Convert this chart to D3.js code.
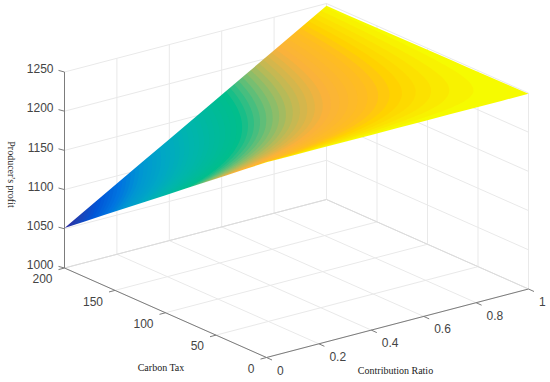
<!DOCTYPE html>
<html>
<head>
<meta charset="utf-8">
<script src="https://cdn.jsdelivr.net/npm/d3@7"></script>
<style>
    html, body { margin: 0; padding: 0; background: #fff; overflow: hidden; }
    text { font-family: "Liberation Sans", Arial, sans-serif; font-size: 12px; fill: #444; }
    .title { font-family: "Liberation Serif", "Times New Roman", serif; font-size: 10px; fill: #222; }
</style>
</head>
<body>
<svg width="550" height="382"></svg>
<script>
var xTicks = [0, 0.2, 0.4, 0.6, 0.8, 1];
var xLabels = ["0", "0.2", "0.4", "0.6", "0.8", "1"];
var yTicks = [0, 50, 100, 150, 200];
var zTicks = [1000, 1050, 1100, 1150, 1200, 1250];

// surface samples, one row per carbon tax, one column per ratio
var ratioValues = [0, 0.1, 0.2, 0.3, 0.4, 0.5, 0.6, 0.7, 0.8, 0.9, 1];
var taxValues = [0, 20, 40, 60, 80, 100, 120, 140, 160, 180, 200];
var profitRows = [
    [1249, 1249, 1249, 1249, 1249, 1249, 1249, 1249, 1249, 1249, 1249],
    [1229.2, 1231.2, 1233.1, 1235.1, 1237, 1239, 1241, 1242.9, 1244.9, 1246.8, 1248.8],
    [1209.4, 1213.3, 1217.2, 1221.2, 1225.1, 1229, 1232.9, 1236.8, 1240.8, 1244.7, 1248.6],
    [1189.6, 1195.5, 1201.4, 1207.2, 1213.1, 1219, 1224.9, 1230.8, 1236.6, 1242.5, 1248.4],
    [1169.8, 1177.6, 1185.5, 1193.3, 1201.2, 1209, 1216.8, 1224.7, 1232.5, 1240.4, 1248.2],
    [1150, 1159.8, 1169.6, 1179.4, 1189.2, 1199, 1208.8, 1218.6, 1228.4, 1238.2, 1248],
    [1130.2, 1142, 1153.7, 1165.5, 1177.2, 1189, 1200.8, 1212.5, 1224.3, 1236, 1247.8],
    [1110.4, 1124.1, 1137.8, 1151.6, 1165.3, 1179, 1192.7, 1206.4, 1220.2, 1233.9, 1247.6],
    [1090.6, 1106.3, 1122, 1137.6, 1153.3, 1169, 1184.7, 1200.4, 1216, 1231.7, 1247.4],
    [1070.8, 1088.4, 1106.1, 1123.7, 1141.4, 1159, 1176.6, 1194.3, 1211.9, 1229.6, 1247.2],
    [1051, 1070.6, 1090.2, 1109.8, 1129.4, 1149, 1168.6, 1188.2, 1207.8, 1227.4, 1247]
];

// colormap as seen on the surface
var colorLevels = [1051, 1062, 1077, 1093, 1108, 1125, 1140, 1170, 1178, 1187, 1196, 1210, 1225, 1232, 1242, 1249];
var colorStops = ["#2d28a0", "#1e41b4", "#0055d7", "#0074e0", "#0096d2", "#00a8c4", "#00b4b0", "#00be8c", "#3cbe82", "#82be6e", "#beb955", "#fab23c", "#ffbe1e", "#ffd200", "#faeb00", "#f5ff00"];

var svg = d3.select("svg");

var xScale = d3.scaleLinear().domain([0, 1]).range([0, 1]);
var yScale = d3.scaleLinear().domain([0, 200]).range([0, 1]);
var zScale = d3.scaleLinear().domain([1000, 1250]).range([0, 196]);
var colorScale = d3.scaleLinear().domain(colorLevels).range(colorStops);

// orthographic view, front floor corner plus one vector per axis
var origin = [266.5, 357.5];
var xDir = [262, -68.5];
var yDir = [-202, -89.5];

function project(x, y, z) {
    var a = xScale(x), b = yScale(y);
    return [
        origin[0] + a * xDir[0] + b * yDir[0],
        origin[1] + a * xDir[1] + b * yDir[1] - zScale(z)
    ];
}

function line3d(g, p, q, color, width) {
    var a = project(p[0], p[1], p[2]), b = project(q[0], q[1], q[2]);
    g.append("line")
        .attr("x1", a[0]).attr("y1", a[1])
        .attr("x2", b[0]).attr("y2", b[1])
        .attr("stroke", color)
        .attr("stroke-width", width);
}

// grid on the floor and the two back walls
var grid = svg.append("g");
var gridColor = "#e9e9e9";
var edgeColor = "#dcdcdc";

xTicks.forEach(function (x) {
    line3d(grid, [x, 0, 1000], [x, 200, 1000], x == 1 ? edgeColor : gridColor, 1);
    line3d(grid, [x, 200, 1000], [x, 200, 1250], gridColor, 1);
});
yTicks.forEach(function (y) {
    line3d(grid, [0, y, 1000], [1, y, 1000], y == 200 ? edgeColor : gridColor, 1);
    line3d(grid, [1, y, 1000], [1, y, 1250], gridColor, 1);
});
zTicks.forEach(function (z) {
    line3d(grid, [0, 200, z], [1, 200, z], z == 1000 ? edgeColor : gridColor, 1);
    line3d(grid, [1, 200, z], [1, 0, z], z == 1000 ? edgeColor : gridColor, 1);
});

// surface: bands of equal profit, like a flat colormap on a fine mesh
function profitAt(a, b) {
    var fx = a * (ratioValues.length - 1), fy = b * (taxValues.length - 1);
    var i = Math.max(0, Math.min(Math.floor(fx), ratioValues.length - 2));
    var j = Math.max(0, Math.min(Math.floor(fy), taxValues.length - 2));
    var s = fx - i, t = fy - j;
    return (1 - t) * ((1 - s) * profitRows[j][i] + s * profitRows[j][i + 1]) +
        t * ((1 - s) * profitRows[j + 1][i] + s * profitRows[j + 1][i + 1]);
}

var n = 81;
var fineValues = [];
d3.range(n).forEach(function (j) {
    d3.range(n).forEach(function (i) {
        fineValues.push(profitAt(i / (n - 1), j / (n - 1)));
    });
});

var bandCount = 64;
var bandStart = d3.min(fineValues), bandEnd = d3.max(fineValues);
var bandStep = (bandEnd - bandStart) / bandCount;
var thresholds = d3.range(bandCount).map(function (i) { return bandStart + i * bandStep; });

var bands = d3.contours().size([n, n]).thresholds(thresholds)(fineValues);

// rings run half a cell past the data, the mask below trims them to one clean edge
var surfacePath = d3.geoPath(d3.geoTransform({
    point: function (px, py) {
        var a = (px - 0.5) / (n - 1);
        var b = (py - 0.5) / (n - 1);
        var p = project(a, b * 200, profitAt(a, b));
        this.stream.point(p[0], p[1]);
    }
}));

var last = ratioValues.length - 1;
var outline = [];
ratioValues.forEach(function (x, i) { outline.push(project(x, 0, profitRows[0][i])); });
taxValues.forEach(function (y, j) { outline.push(project(1, y, profitRows[j][last])); });
ratioValues.slice().reverse().forEach(function (x, i) { outline.push(project(x, 200, profitRows[last][last - i])); });
taxValues.slice().reverse().forEach(function (y, j) { outline.push(project(0, y, profitRows[last - j][0])); });

svg.append("mask")
    .attr("id", "surface-mask")
    .attr("maskUnits", "userSpaceOnUse")
    .attr("x", 0).attr("y", 0)
    .attr("width", 550).attr("height", 382)
    .append("path")
    .attr("d", d3.line()(outline) + "Z")
    .attr("fill", "#fff");

svg.append("g")
    .attr("mask", "url(#surface-mask)")
    .selectAll("path")
    .data(bands)
    .enter()
    .append("path")
    .attr("d", surfacePath)
    .attr("fill", function (d) { return colorScale(d.value + bandStep / 2); });

// axes
var axisColor = "#7c7c7c";
var axes = svg.append("g");
line3d(axes, [0, 200, 1000], [0, 200, 1250], axisColor, 1);
line3d(axes, [0, 200, 1000], [0, 0, 1000], axisColor, 1);
line3d(axes, [0, 0, 1000], [1, 0, 1000], axisColor, 1);

function tick(p, dx, dy) {
    axes.append("line")
        .attr("x1", p[0]).attr("y1", p[1])
        .attr("x2", p[0] + dx).attr("y2", p[1] + dy)
        .attr("stroke", axisColor)
        .attr("stroke-width", 1);
}

zTicks.forEach(function (z) {
    var p = project(0, 200, z);
    tick(p, -6, -1.6);
    axes.append("text")
        .attr("x", p[0] - 11)
        .attr("y", p[1] - 3)
        .attr("dy", "0.35em")
        .attr("text-anchor", "end")
        .text(z);
});
yTicks.forEach(function (y) {
    var p = project(0, y, 1000);
    tick(p, -6, 1.6);
    axes.append("text")
        .attr("x", p[0] - 12)
        .attr("y", p[1] + 11)
        .attr("dy", "0.35em")
        .attr("text-anchor", "end")
        .text(y);
});
xTicks.forEach(function (x, i) {
    var p = project(x, 0, 1000);
    tick(p, 5.5, 2.5);
    axes.append("text")
        .attr("x", p[0] + 10.5)
        .attr("y", p[1] + 12.8)
        .attr("dy", "0.35em")
        .text(xLabels[i]);
});

svg.append("text").attr("class", "title")
    .attr("x", 161).attr("y", 367).attr("dy", "0.35em")
    .attr("text-anchor", "middle")
    .text("Carbon Tax");
svg.append("text").attr("class", "title")
    .attr("x", 395.5).attr("y", 370).attr("dy", "0.35em")
    .attr("text-anchor", "middle")
    .text("Contribution Ratio");
svg.append("text").attr("class", "title")
    .attr("transform", "translate(11.5,174.5) rotate(90)")
    .attr("dy", "0.35em")
    .attr("text-anchor", "middle")
    .text("Producer's profit");
</script>
</body>
</html>
